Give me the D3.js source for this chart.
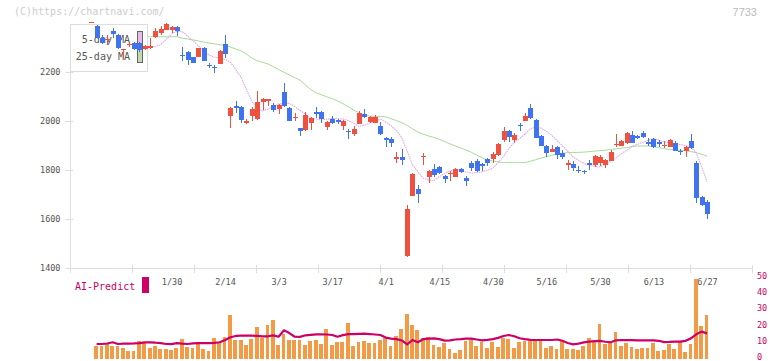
<!DOCTYPE html>
<html><head><meta charset="utf-8">
<script src="https://cdn.jsdelivr.net/npm/d3@7"></script>
<style>
html,body{margin:0;padding:0;background:#fff;}
svg{display:block;}
text{font-family:"DejaVu Sans Mono",monospace;}
</style></head>
<body><svg id="c" width="772" height="361"></svg>
<script>
const dates = ["1/8","1/9","1/10","1/14","1/15","1/16","1/17","1/20","1/21","1/22","1/23","1/24","1/27","1/28","1/29","1/30","1/31",
"2/3","2/4","2/5","2/6","2/7","2/10","2/12","2/13","2/14","2/17","2/18","2/19","2/20","2/21","2/25","2/26","2/27","2/28",
"3/3","3/4","3/5","3/6","3/7","3/10","3/11","3/12","3/13","3/14","3/17","3/18","3/19","3/21","3/24","3/25","3/26","3/27","3/28","3/31",
"4/1","4/2","4/3","4/4","4/7","4/8","4/9","4/10","4/11","4/14","4/15","4/16","4/17","4/18","4/21","4/22","4/23","4/24","4/25","4/28","4/30",
"5/1","5/2","5/7","5/8","5/9","5/12","5/13","5/14","5/15","5/16","5/19","5/20","5/21","5/22","5/23","5/26","5/27","5/28","5/29","5/30",
"6/2","6/3","6/4","6/5","6/6","6/9","6/10","6/11","6/12","6/13","6/16","6/17","6/18","6/19","6/20","6/23","6/24","6/25","6/26","6/27"];

const open  = [2402,2388,2337,2333,2369,2351,2290,2311,2318,2318,2293,2297,2343,2358,2372,2370,2382,2271,2280,2260,2262,2299,2230,2222,2234,2314,
2022,2060,2058,1991,2022,2008,2076,2083,2065,2049,2118,2052,2012,1971,1963,1993,2036,2038,1977,2010,2004,1981,1958,1947,1988,2029,1997,1993,1980,
1929,1927,1846,1855,1450,1695,1722,1853,1773,1806,1811,1775,1784,1773,1804,1768,1830,1837,1823,1843,1843,1861,1922,1959,1922,1984,2001,2054,2004,
1940,1898,1875,1893,1871,1820,1825,1802,1797,1827,1820,1830,1820,1838,1902,1898,1909,1943,1939,1950,1913,1927,1913,1898,1895,1911,1879,1879,1920,
1830,1689,1671];
const high  = [2405,2390,2351,2351,2378,2355,2294,2322,2322,2322,2310,2340,2380,2386,2398,2388,2388,2303,2287,2262,2300,2302,2235,2228,2290,2351,
2058,2082,2060,2008,2058,2122,2092,2091,2072,2069,2156,2058,2033,1973,2035,2015,2058,2040,2000,2020,2008,2003,1966,1978,2040,2050,2020,2025,1997,
1936,1933,1875,1886,1657,1789,1739,1871,1800,1825,1818,1779,1797,1809,1809,1775,1837,1843,1830,1851,1874,1911,1974,1963,1952,1993,2032,2068,2010,
1943,1901,1902,1897,1880,1841,1837,1816,1800,1841,1863,1863,1845,1883,1946,1924,1955,1959,1943,1959,1929,1929,1924,1918,1927,1920,1884,1897,1947,
1836,1693,1678];
const low   = [2401,2338,2313,2310,2337,2295,2257,2302,2290,2283,2290,2294,2340,2350,2370,2358,2347,2246,2229,2235,2260,2243,2215,2195,2232,2258,
1970,2031,1993,1989,1998,2005,2045,2062,2037,2029,2058,1999,2002,1939,1960,1963,2011,1993,1963,1987,1988,1965,1927,1937,1986,2012,1991,1991,1943,
1895,1895,1827,1820,1444,1693,1667,1820,1746,1773,1784,1746,1756,1771,1787,1735,1797,1792,1796,1818,1829,1857,1916,1916,1910,1960,1998,2009,1930,
1896,1855,1873,1843,1845,1800,1796,1789,1785,1800,1814,1816,1808,1836,1893,1896,1905,1909,1927,1929,1898,1890,1893,1889,1893,1877,1861,1855,1885,
1667,1652,1600];
const close = [2404,2340,2318,2336,2354,2297,2293,2314,2295,2290,2308,2306,2368,2374,2395,2385,2366,2268,2251,2237,2299,2245,2226,2218,2285,2272,
2054,2056,2004,2001,2049,2076,2090,2090,2045,2065,2061,2001,2018,1961,2025,2012,2030,2007,1997,1992,1994,2001,1955,1967,2034,2015,2018,2015,1946,
1925,1912,1852,1841,1641,1784,1702,1857,1797,1780,1789,1764,1789,1803,1790,1757,1809,1796,1818,1827,1865,1906,1959,1936,1943,1980,2022,2011,1932,
1898,1871,1886,1861,1855,1830,1809,1799,1791,1823,1858,1852,1841,1875,1908,1920,1952,1911,1930,1936,1910,1895,1910,1902,1922,1879,1872,1895,1889,
1687,1657,1620];

// moving averages, starting at candle index 10
const maStart = 10;
const ma5 = [2299,2301,2305,2312,2333,2355,2367,2365,2347,2327,2308,2286,2269,2261,2256,2251,2240,2210,2178,2128,2080,2052,2041,2049,2058,2069,2072,2072,2059,2044,
2027,2011,2008,2005,2007,2010,2010,2008,2002,1991,1978,1983,1991,2000,2007,1996,1981,1962,1932,1878,1820,1794,1766,1760,1757,1773,1786,1797,1799,1800,
1792,1787,1790,1793,1799,1807,1831,1856,1887,1913,1929,1946,1967,1975,1971,1959,1941,1920,1898,1876,1854,1839,1827,1819,1815,1813,1824,1835,1849,1867,
1880,1896,1905,1913,1922,1929,1922,1915,1911,1907,1904,1900,1894,1869,1814,1752];
const ma25 = [2344,2344,2344,2344,2344,2344,2344,2338,2335,2331,2327,2322,2318,2315,2311,2309,2302,2294,2286,2273,2257,2246,2240,2233,2222,2210,2199,2188,2177,2167,
2147,2128,2115,2107,2099,2091,2082,2071,2058,2045,2034,2024,2020,2019,2018,2017,2009,2002,1993,1982,1968,1955,1946,1939,1933,1925,1916,1907,1898,1890,
1881,1872,1861,1850,1840,1837,1833,1830,1830,1830,1830,1830,1836,1842,1849,1854,1860,1864,1868,1871,1871,1872,1873,1875,1877,1879,1881,1884,1886,1889,
1891,1896,1898,1898,1898,1895,1891,1887,1884,1882,1880,1879,1875,1871,1864,1856];

const volume = [null,8.0,8.0,9.0,8.0,8.0,6.5,4.9,4.7,10.9,9.4,6.5,7.7,5.9,5.9,5.3,6.5,12.1,6.9,6.5,9.0,5.9,4.7,12.9,9.4,13.6,27.0,11.5,11.5,8.4,12.1,
19.6,12.5,20.8,23.9,8.4,15.0,11.5,11.5,11.5,8.4,10.9,11.5,9.0,18.3,8.4,10.1,10.1,21.8,8.0,10.1,10.9,9.9,9.9,11.5,12.5,8.0,14.0,
18.3,27.6,20.8,17.7,12.5,13.6,8.4,7.2,9.4,6.2,3.2,5.3,10.9,12.1,8.0,10.1,6.8,10.1,7.2,12.5,12.1,6.8,10.1,10.9,10.9,10.9,10.9,6.8,8.0,5.9,10.9,5.9,5.9,5.3,
8.0,12.9,10.9,21.4,8.7,9.4,16.7,8.0,9.9,7.2,5.9,6.8,6.8,9.9,4.7,5.3,9.2,5.9,10.1,4.3,9.0,49.4,20.3,27.0];
const aiPredict = [null,9.0,9.0,9.3,10.1,9.0,9.2,9.3,9.4,9.6,10.0,10.0,9.8,9.5,9.0,8.9,9.5,9.2,9.0,9.4,9.6,9.6,9.6,9.7,10.1,11.5,13.2,14.0,14.2,14.2,14.2,
14.0,13.7,13.8,14.4,13.5,17.5,15.8,13.5,13.4,14.4,14.7,15.0,15.0,14.9,14.6,13.5,14.5,15.1,15.2,15.3,15.4,15.2,14.9,14.6,13.0,12.3,12.0,11.2,8.8,11.5,
10.1,12.0,12.3,12.5,12.0,11.1,11.3,11.8,12.0,12.4,12.3,11.8,11.3,11.6,12.0,12.8,14.0,14.6,13.8,12.6,12.0,11.6,11.5,11.5,11.5,11.5,11.8,11.0,9.6,8.8,
9.2,10.0,10.5,10.8,10.9,10.4,10.1,11.3,11.5,11.4,11.4,11.3,11.3,11.3,11.3,11.0,10.2,10.3,10.5,10.5,11.0,12.5,15.0,16.7,15.6];

const labelDates = ["1/30","2/14","3/3","3/17","4/1","4/15","4/30","5/16","5/30","6/13","6/27"];
const priceTicks = [1400,1600,1800,2000,2200];
const volTicks = [0,10,20,30,40,50];

const UP = "#f05040", DOWN = "#4073ef", VOL = "#f39a46", AI = "#cc0066";
const MA5C = "#e4a6ec", MA25C = "#a9d99a", AXC = "#dddddd", TXT = "#555555";

const svg = d3.select("#c");
const n = dates.length;
const x = d3.scaleLinear().domain([0, n - 1]).range([91.2, 707.0]);
const y = d3.scaleLinear().domain([1400, 2200]).range([268, 72]);
const v = d3.scaleLinear().domain([0, 50]).range([358.5, 278]);
const grid = d3.scaleLinear().domain([0, 11]).range([70, 752]);

// header texts
svg.append("text").attr("x", 14).attr("y", 15).attr("font-size", 10).attr("fill", "#cccccc").text("(C)https://chartnavi.com/");
svg.append("text").attr("x", 757).attr("y", 16).attr("text-anchor", "end").attr("font-size", 11)
  .style("font-family", "'Liberation Sans',Arial,sans-serif").attr("fill", "#bbbbbb").text("7733");

// axes lines
svg.append("line").attr("x1", 70.5).attr("x2", 70.5).attr("y1", 24).attr("y2", 268).attr("stroke", AXC);
svg.append("line").attr("x1", 70).attr("x2", 752).attr("y1", 268.5).attr("y2", 268.5).attr("stroke", AXC);

// y axis
const yAxis = svg.append("g").attr("transform", "translate(70.5,0)")
  .call(d3.axisLeft(y).tickValues(priceTicks).tickSize(5).tickPadding(5).tickFormat(d3.format("d")));
yAxis.select(".domain").remove();
yAxis.selectAll(".tick line").attr("x1", -5).attr("x2", 3).attr("stroke", AXC);
yAxis.selectAll(".tick text").attr("font-size", 8.5).attr("fill", TXT).attr("font-family", "DejaVu Sans Mono,monospace");

// x grid tick marks
const gAxis = svg.append("g").attr("transform", "translate(0,268)")
  .call(d3.axisBottom(grid).tickValues(d3.range(0, 12)).tickSize(5).tickFormat(""));
gAxis.select(".domain").remove();
gAxis.selectAll(".tick line").attr("y1", -3).attr("y2", 5).attr("stroke", AXC);

// x labels
const labelIdx = labelDates.map(d => dates.indexOf(d));
const xAxis = svg.append("g").attr("transform", "translate(0,276)")
  .call(d3.axisBottom(x).tickValues(labelIdx).tickSize(0).tickPadding(0).tickFormat(i => dates[i]));
xAxis.select(".domain").remove();
xAxis.selectAll(".tick text").attr("font-size", 8.5).attr("fill", TXT).attr("dy", "0.71em").attr("y", 3)
  .attr("font-family", "DejaVu Sans Mono,monospace");

// moving averages
const maLine = (arr) => d3.line().x((d, k) => x(k + maStart)).y(d => y(d))(arr);
svg.append("path").attr("d", maLine(ma25)).attr("fill", "none").attr("stroke", MA25C).attr("stroke-width", 1);
svg.append("path").attr("d", maLine(ma5)).attr("fill", "none").attr("stroke", MA5C).attr("stroke-width", 1.1)
  .attr("stroke-dasharray", "1.6,0.8");

// legend box
const lg = svg.append("g");
lg.append("rect").attr("x", 70.5).attr("y", 24.5).attr("width", 77).attr("height", 47).attr("fill", "#fff").attr("stroke", AXC);
lg.append("text").attr("x", 130).attr("y", 43).attr("text-anchor", "end").attr("font-size", 10).attr("fill", TXT).text("5-day MA");
lg.append("text").attr("x", 130).attr("y", 60).attr("text-anchor", "end").attr("font-size", 10).attr("fill", TXT).text("25-day MA");
lg.append("rect").attr("x", 137.5).attr("y", 31.5).attr("width", 5).attr("height", 12).attr("fill", "#e8bce8").attr("stroke", "#666");
lg.append("rect").attr("x", 137.5).attr("y", 43.5).attr("width", 5).attr("height", 19).attr("fill", "#bddbb0").attr("stroke", "#666");

// candles
const idx = d3.range(n);
const cg = svg.append("g").attr("shape-rendering", "crispEdges");
cg.selectAll("line.w").data(idx).join("line")
  .attr("x1", i => Math.round(x(i)) + 0.5).attr("x2", i => Math.round(x(i)) + 0.5)
  .attr("y1", i => y(high[i])).attr("y2", i => y(low[i]))
  .attr("stroke", i => close[i] >= open[i] ? UP : DOWN);
cg.selectAll("rect.b").data(idx).join("rect")
  .attr("x", i => Math.round(x(i)) - 2).attr("width", 5)
  .attr("y", i => Math.min(y(open[i]), y(close[i])))
  .attr("height", i => Math.max(1.2, Math.abs(y(open[i]) - y(close[i]))))
  .attr("fill", i => close[i] >= open[i] ? UP : DOWN);

// volume panel
const vg = svg.append("g").attr("shape-rendering", "crispEdges");
vg.selectAll("rect").data(idx.filter(i => volume[i] != null)).join("rect")
  .attr("x", i => x(i) - 2.4).attr("width", 3.8)
  .attr("y", i => v(volume[i])).attr("height", i => v(0) - v(volume[i]))
  .attr("fill", VOL);
svg.append("path")
  .attr("d", d3.line().defined(i => aiPredict[i] != null).x(i => x(i)).y(i => v(aiPredict[i]))(idx))
  .attr("fill", "none").attr("stroke", AI).attr("stroke-width", 2.2).attr("stroke-linejoin", "round");

// right axis labels for volume
const rAxis = svg.append("g").attr("transform", "translate(757,-2)")
  .call(d3.axisRight(v).tickValues(volTicks).tickSize(0).tickPadding(0));
rAxis.select(".domain").remove();
rAxis.selectAll(".tick text").attr("font-size", 8.5).attr("fill", AI).attr("font-family", "DejaVu Sans Mono,monospace");

// AI-Predict label
svg.append("text").attr("x", 75).attr("y", 290).attr("font-size", 10).attr("fill", AI).text("AI-Predict");
svg.append("rect").attr("x", 142).attr("y", 277).attr("width", 7).attr("height", 16).attr("fill", AI);
</script></body></html>
